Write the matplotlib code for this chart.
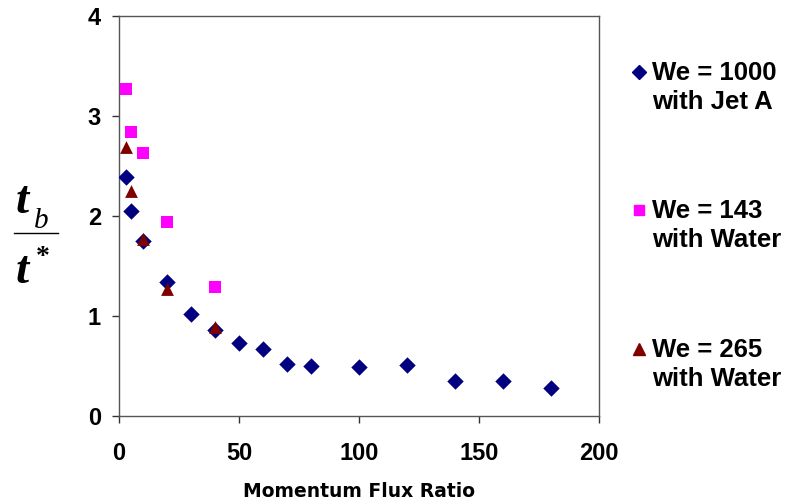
import matplotlib
matplotlib.use("Agg")
import matplotlib.pyplot as plt
from matplotlib.lines import Line2D

# Breakup time data vs. momentum flux ratio
jet_a_q = [3, 5, 10, 20, 30, 40, 50, 60, 70, 80, 100, 120, 140, 160, 180]
jet_a_t = [2.39, 2.05, 1.75, 1.34, 1.02, 0.86, 0.73, 0.67, 0.52, 0.50, 0.49, 0.51, 0.35, 0.35, 0.28]

water143_q = [3, 5, 10, 20, 40]
water143_t = [3.27, 2.84, 2.63, 1.94, 1.29]

water265_q = [3, 5, 10, 20, 40]
water265_t = [2.69, 2.25, 1.77, 1.27, 0.89]

series_labels = ["We = 1000\nwith Jet A", "We = 143\nwith Water", "We = 265\nwith Water"]
x_ticks = [0, 50, 100, 150, 200]
y_ticks = [0, 1, 2, 3, 4]

plt.rcParams['font.family'] = ['Liberation Sans', 'DejaVu Sans']

fig = plt.figure(figsize=(7.93, 5.04), dpi=100)
ax = fig.add_axes([0.150, 0.1746, 0.605, 0.7936])

ax.scatter(jet_a_q, jet_a_t, marker='D', s=70, color='#000080', zorder=3, linewidths=0)
ax.scatter(water143_q, water143_t, marker='s', s=78, color='#FF00FF', zorder=3, linewidths=0)
ax.scatter(water265_q, water265_t, marker='^', s=85, color='#800000', zorder=4, linewidths=0)

ax.set_xlim(0, 200)
ax.set_ylim(0, 4)
ax.set_xticks(x_ticks)
ax.set_yticks(y_ticks)
ax.tick_params(direction='out', length=5, width=1, color='#333333', labelsize=17)
ax.tick_params(axis='x', pad=14)
ax.tick_params(axis='y', pad=8)
for lab in ax.get_xticklabels() + ax.get_yticklabels():
    lab.set_fontweight('bold')
for sp in ax.spines.values():
    sp.set_color('#555555')
    sp.set_linewidth(1.0)

ax.set_xlabel("Momentum Flux Ratio", fontsize=13.5, fontweight='bold',
              family=['DejaVu Sans'], labelpad=12)

# Fraction-style y label: t_b / t*
serif = ['Liberation Serif', 'DejaVu Serif']
fig.text(0.020, (504 - 213) / 504, "t", family=serif, style='italic', fontweight='bold',
         fontsize=34, ha='left', va='baseline')
fig.text(0.043, (504 - 228) / 504, "b", family=serif, style='italic',
         fontsize=21, ha='left', va='baseline')
fig.add_artist(Line2D([0.018, 0.073], [(504 - 233) / 504] * 2, transform=fig.transFigure,
                      color='black', linewidth=1.0))
fig.text(0.020, (504 - 283) / 504, "t", family=serif, style='italic', fontweight='bold',
         fontsize=34, ha='left', va='baseline')
fig.text(0.045, (504 - 264) / 504, "*", family=serif, fontweight='bold',
         fontsize=20, ha='left', va='baseline')

# Legend drawn as marker + two-line label
legend_specs = [
    ('D', '#000080', 7.5, 72),
    ('s', '#FF00FF', 7.5, 210),
    ('^', '#800000', 8.5, 349),
]
for (m, c, ms, ypix), label in zip(legend_specs, series_labels):
    y = (504 - ypix) / 504
    fig.add_artist(Line2D([0.806], [y], marker=m, color=c, markersize=ms,
                          linestyle='none', transform=fig.transFigure))
    fig.text(0.822, y + 0.022, label, fontsize=18.5, fontweight='bold', ha='left',
             va='top', linespacing=1.28)

fig.savefig("out.png", dpi=100)
